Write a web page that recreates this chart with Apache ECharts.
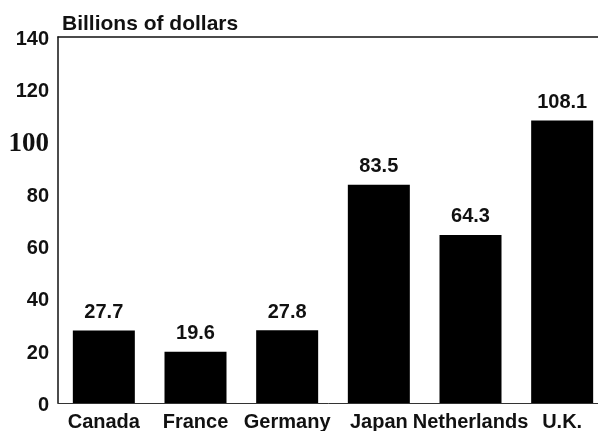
<!DOCTYPE html>
<html>
<head>
<meta charset="utf-8">
<script src="https://cdn.jsdelivr.net/npm/echarts@6/dist/echarts.min.js"></script>
<style>
  html, body { margin: 0; padding: 0; background: #fff; }
  #chart { width: 598px; height: 431px; }
</style>
</head>
<body>
<div id="chart"></div>
<script>
// data
const countries = ['Canada', 'France', 'Germany', 'Japan', 'Netherlands', 'U.K.'];
const amounts = [27.7, 19.6, 27.8, 83.5, 64.3, 108.1];
const yTicks = [0, 20, 40, 60, 80, 100, 120, 140];

const chart = echarts.init(document.getElementById('chart'));

const option = {
  backgroundColor: '#fff',
  animation: false,
  textStyle: { fontFamily: 'Liberation Sans, Arial, sans-serif' },
  title: {
    text: 'Billions of dollars',
    left: 57,
    top: 9,
    textStyle: { fontSize: 21, fontWeight: 'bold', color: '#111' }
  },
  grid: {
    left: 58,
    top: 37,
    width: 550,   // last category runs past the right edge, like the original
    height: 366,
    outerBoundsMode: 'none'
  },
  xAxis: [{
    type: 'category',
    data: countries,
    axisLine: { show: true, lineStyle: { color: '#333', width: 1 } },
    axisTick: { show: false },
    axisLabel: {
      margin: 9,
      fontSize: 20,
      fontWeight: 'bold',
      color: '#111',
      interval: 0
    }
  }, {
    // top border line
    type: 'category',
    data: countries,
    position: 'top',
    axisLine: { show: true, lineStyle: { color: '#111', width: 1.5 } },
    axisTick: { show: false },
    axisLabel: { show: false }
  }],
  yAxis: {
    type: 'value',
    min: yTicks[0],
    max: yTicks[yTicks.length - 1],
    interval: 20,
    axisLine: { show: true, lineStyle: { color: '#111', width: 1.5 } },
    axisTick: { show: false },
    splitLine: { show: false },
    axisLabel: {
      margin: 9,
      fontSize: 20,
      fontWeight: 'bold',
      color: '#111',
      padding: [5, 0, 0, 0],
      // the "100" label is set in a serif face in the original
      formatter: function (v) {
        return v === 100 ? '{serif|' + v + '}' : String(v);
      },
      rich: {
        serif: {
          fontFamily: 'Liberation Serif, Times New Roman, serif',
          fontSize: 27,
          fontWeight: 'bold',
          color: '#111'
        }
      }
    }
  },
  series: [{
    type: 'bar',
    data: amounts,
    barWidth: 62,
    itemStyle: { color: '#000' },
    label: {
      show: true,
      position: 'top',
      distance: 8,
      fontSize: 20,
      fontWeight: 'bold',
      color: '#111'
    }
  }]
};

chart.setOption(option);
</script>
</body>
</html>
